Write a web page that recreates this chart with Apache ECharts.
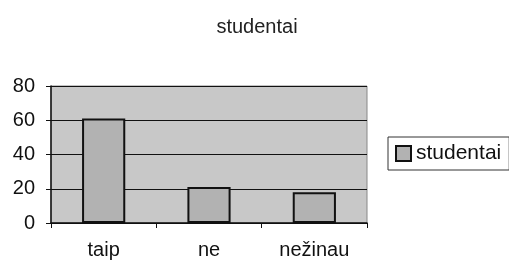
<!DOCTYPE html>
<html>
<head>
<meta charset="utf-8">
<script src="https://cdn.jsdelivr.net/npm/echarts@6/dist/echarts.min.js"></script>
<style>
  html, body { margin: 0; padding: 0; background: #fff; }
  #chart { width: 509px; height: 263px; }
</style>
</head>
<body>
<div id="chart"></div>
<script>
// duomenys
const categories = ['taip', 'ne', 'nežinau']
const studentai = [61, 21, 18]
const seriesName = 'studentai'

const chart = echarts.init(document.getElementById('chart'))

chart.setOption({
  animation: false,
  textStyle: { fontFamily: 'Liberation Sans, Arial, sans-serif' },
  title: {
    text: 'studentai',
    left: 252,
    textAlign: 'center',
    top: 12,
    textStyle: { fontSize: 20, fontWeight: 'normal', color: '#222' }
  },
  legend: {
    left: 388,
    top: 137,
    orient: 'vertical',
    padding: [6, 8, 6, 7],
    borderColor: '#333',
    borderWidth: 1,
    itemWidth: 15,
    itemHeight: 15,
    icon: 'rect',
    itemStyle: { borderColor: '#111', borderWidth: 2 },
    textStyle: { fontSize: 21, color: '#111', padding: [0, 0, 0, 0] },
    data: [seriesName]
  },
  grid: {
    left: 51,
    right: 142,
    top: 86,
    bottom: 40,
    show: true,
    backgroundColor: '#c8c8c8',
    borderColor: '#888',
    borderWidth: 1
  },
  xAxis: {
    type: 'category',
    data: categories,
    axisLine: { lineStyle: { color: '#111', width: 1.5 } },
    axisTick: { show: true, length: 5, lineStyle: { color: '#111' } },
    axisLabel: { fontSize: 20, color: '#111', margin: 17 }
  },
  yAxis: {
    type: 'value',
    min: 0,
    max: 80,
    interval: 20,
    axisLine: { show: true, lineStyle: { color: '#111', width: 1.5 } },
    axisTick: { show: true, length: 5, lineStyle: { color: '#111' } },
    axisLabel: { fontSize: 20, color: '#111', margin: 16 },
    splitLine: { lineStyle: { color: '#111', width: 1 } }
  },
  series: [{
    name: seriesName,
    type: 'bar',
    data: studentai,
    barWidth: '41%',
    itemStyle: {
      color: '#b2b2b2',
      borderColor: '#111',
      borderWidth: 2
    }
  }]
})
</script>
</body>
</html>
